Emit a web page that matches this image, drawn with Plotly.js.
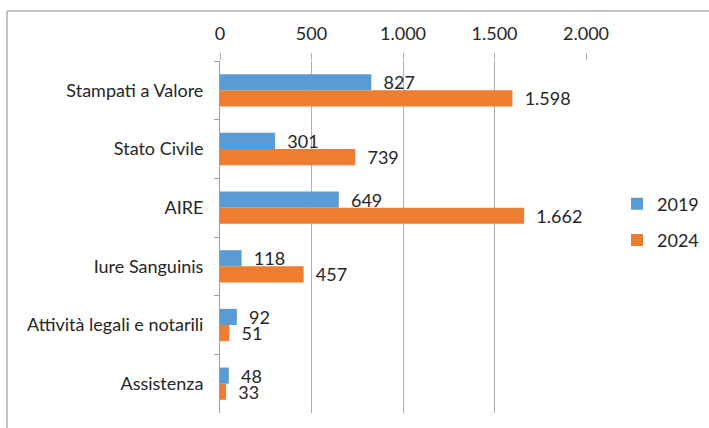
<!DOCTYPE html>
<html><head><meta charset="utf-8">
<script src="https://cdn.plot.ly/plotly-3.0.1.min.js"></script>
<style>html,body{margin:0;padding:0;background:#fff;}#chart{width:709px;height:428px;}</style>
</head><body><div id="chart"></div>
<script>
const categories = ["Stampati a Valore","Stato Civile","AIRE","Iure Sanguinis","Attività legali e notarili","Assistenza"];
const values2019 = [827, 301, 649, 118, 92, 48];
const values2024 = [1598, 739, 1662, 457, 51, 33];
const xTicks = [0, 500, 1000, 1500, 2000];

const fam = "Lato, 'Open Sans', sans-serif";
const font = {family: fam, size: 18, color: "#262626"};
const pad = "\u00a0\u00a0";
const traces = [
  {type:"bar", orientation:"h", name:"2019", y:categories, x:values2019, marker:{color:"#5B9BD5"},
   texttemplate:pad+"%{x:,d}", textposition:"outside", cliponaxis:false, constraintext:"none",
   textfont:{family:fam,size:18,color:"#262626"}, legendgroup:"a"},
  {type:"bar", orientation:"h", name:"2024", y:categories, x:values2024, marker:{color:"#ED7D31"},
   texttemplate:pad+"%{x:,d}", textposition:"outside", cliponaxis:false, constraintext:"none",
   textfont:{family:fam,size:18,color:"#262626"}, legendgroup:"b"}
];
const layout = {
  width:709, height:428,
  margin:{l:220, r:123, t:61, b:15, autoexpand:false},
  paper_bgcolor:"#fff", plot_bgcolor:"#fff",
  separators:",.",
  font:font,
  barmode:"group", bargap:0.45, bargroupgap:0,
  xaxis:{side:"top", range:[0,2000], tickvals:xTicks, tickformat:",d", showgrid:true, gridcolor:"#b0b0b0", gridwidth:1,
    zeroline:false, showline:false, ticks:"outside", ticklen:7, tickcolor:"#b0b0b0", tickfont:{size:18}, ticklabelstandoff:6, automargin:false},
  yaxis:{autorange:"reversed", type:"category", showline:true, linecolor:"#a0a0a0", linewidth:1, ticks:"outside",
    tickson:"boundaries", ticklen:5, tickcolor:"#a0a0a0", showgrid:false, tickfont:{size:18}, ticklabelstandoff:12, automargin:false},
  showlegend:true,
  legend:{xref:"container", yref:"container", x:617/709, xanchor:"left", y:1-222/428, yanchor:"middle",
    traceorder:"grouped", tracegroupgap:10, font:{size:18}, bgcolor:"rgba(0,0,0,0)"},
  shapes:[{type:"rect", xref:"paper", yref:"paper", x0:(7-220)/366, x1:1.5, y0:-0.2, y1:(413-11)/352,
    line:{color:"#8c8c8c", width:1}, fillcolor:"rgba(0,0,0,0)", layer:"below"}]
};
Plotly.newPlot("chart", traces, layout, {displayModeBar:false, staticPlot:true});
</script></body></html>
